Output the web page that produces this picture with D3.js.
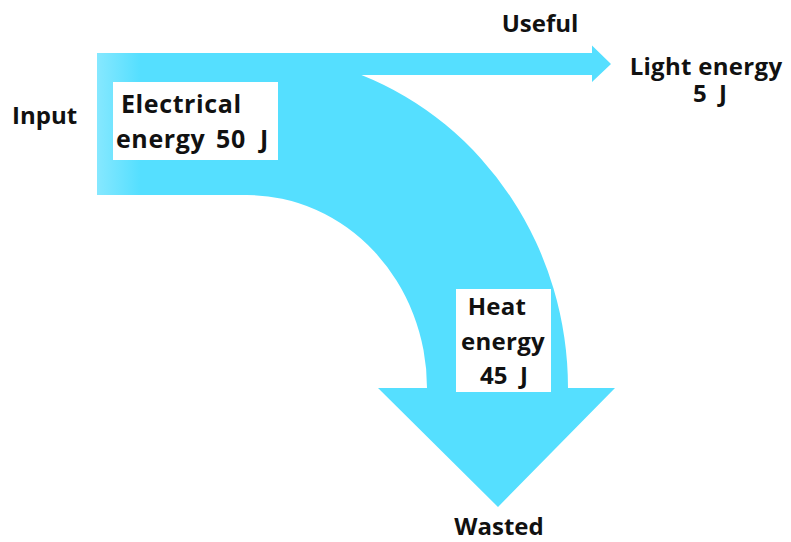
<!DOCTYPE html>
<html>
<head>
<meta charset="utf-8">
<script src="https://cdn.jsdelivr.net/npm/d3@7"></script>
<style>
  html, body { margin: 0; padding: 0; background: #ffffff; }
  svg { display: block; }
</style>
</head>
<body>
<div id="chart"></div>
<script>

// energy flows (J)
let flowNames = ["Electrical energy", "Light energy", "Heat energy"];
let flowValues = [50, 5, 45];
let flowRoles = ["Input", "Useful", "Wasted"];

main();

function main() {

    let width = 791;
    let height = 542;
    let fill = "#55dfff";

    let svg = d3.select("#chart")
        .append("svg")
        .attr("width", width)
        .attr("height", height);

    // light left edge of the input block
    let grad = svg.append("defs").append("linearGradient")
        .attr("id", "inGrad")
        .attr("gradientUnits", "userSpaceOnUse")
        .attr("x1", 97).attr("x2", 140)
        .attr("y1", 0).attr("y2", 0);
    grad.append("stop").attr("offset", 0).attr("stop-color", "#86e8ff");
    grad.append("stop").attr("offset", 1).attr("stop-color", fill);

    // band widths from the values (schematic, input and heat drawn same size)
    let bandY = d3.scaleLinear().domain([0, flowValues[0]]).range([53, 195]);
    let lightW = 22;

    let inTop = bandY(0), inBot = bandY(flowValues[0]);
    let lightBot = inTop + lightW;
    let midY = (inTop + lightBot) / 2;

    // outer / inner curve of the heat band
    let cx = 247, cy = 388;
    let innerR = [427 - cx, cy - inBot];
    let outerR = [568 - cx, 335];
    let outerStartX = cx + outerR[0] * Math.sqrt(1 - Math.pow((cy - lightBot) / outerR[1], 2));

    let p = d3.path();
    p.moveTo(97, inTop);
    p.lineTo(592, inTop);
    p.lineTo(592, 45.5);
    p.lineTo(611, midY);
    p.lineTo(592, 82);
    p.lineTo(592, lightBot);
    p.lineTo(outerStartX, lightBot);
    let d = p.toString()
        + "A" + outerR[0] + "," + outerR[1] + " 0 0 1 " + (cx + outerR[0]) + "," + cy
        + "L615," + cy
        + "L498,507"
        + "L378," + cy
        + "L" + (cx + innerR[0]) + "," + cy
        + "A" + innerR[0] + "," + innerR[1] + " 0 0 0 " + cx + "," + inBot
        + "L97," + inBot + "Z";

    svg.append("path")
        .attr("d", d)
        .attr("fill", fill);

    // the light part of the input block gets the gradient on top
    svg.append("rect")
        .attr("x", 97).attr("y", inTop)
        .attr("width", 43).attr("height", inBot - inTop)
        .attr("fill", "url(#inGrad)");

    // white label boxes
    let boxes = [
        {x: 113, y: 82, w: 165, h: 78},
        {x: 456, y: 289, w: 95, h: 103}
    ];
    svg.selectAll(".box")
        .data(boxes)
        .enter()
        .append("rect")
        .attr("class", "box")
        .attr("x", (b) => b.x)
        .attr("y", (b) => b.y)
        .attr("width", (b) => b.w)
        .attr("height", (b) => b.h)
        .attr("fill", "#ffffff");

    let texts = [
        {t: flowRoles[0], x: 12, y: 124, a: "start", s: 24, ls: 0},
        {t: flowRoles[1], x: 540, y: 32, a: "middle", s: 24, ls: 0},
        {t: flowRoles[2], x: 499, y: 535, a: "middle", s: 24, ls: 0},
        {t: "Electrical", x: 121, y: 113, a: "start", s: 25, ls: 0.6},
        {t: "energy", x: 116, y: 148, a: "start", s: 25, ls: 0.6},
        {t: flowValues[0] + "  J", x: 216, y: 148, a: "start", s: 25, ls: 0.6},
        {t: flowNames[1], x: 706, y: 75, a: "middle", s: 24, ls: 0.3},
        {t: flowValues[1] + "  J", x: 710, y: 102, a: "middle", s: 24, ls: 0},
        {t: "Heat", x: 497, y: 315, a: "middle", s: 24, ls: 0.3},
        {t: "energy", x: 503, y: 350, a: "middle", s: 24, ls: 0.3},
        {t: flowValues[2] + "  J", x: 504, y: 384, a: "middle", s: 24, ls: 0}
    ];

    svg.selectAll(".lbl")
        .data(texts)
        .enter()
        .append("text")
        .attr("class", "lbl")
        .attr("x", (d) => d.x)
        .attr("y", (d) => d.y)
        .attr("text-anchor", (d) => d.a)
        .style("font-family", "'Open Sans', sans-serif")
        .style("font-weight", 700)
        .style("font-size", (d) => d.s + "px")
        .style("letter-spacing", (d) => d.ls + "px")
        .style("white-space", "pre")
        .attr("fill", "#111111")
        .text((d) => d.t);
}
</script>
</body>
</html>
